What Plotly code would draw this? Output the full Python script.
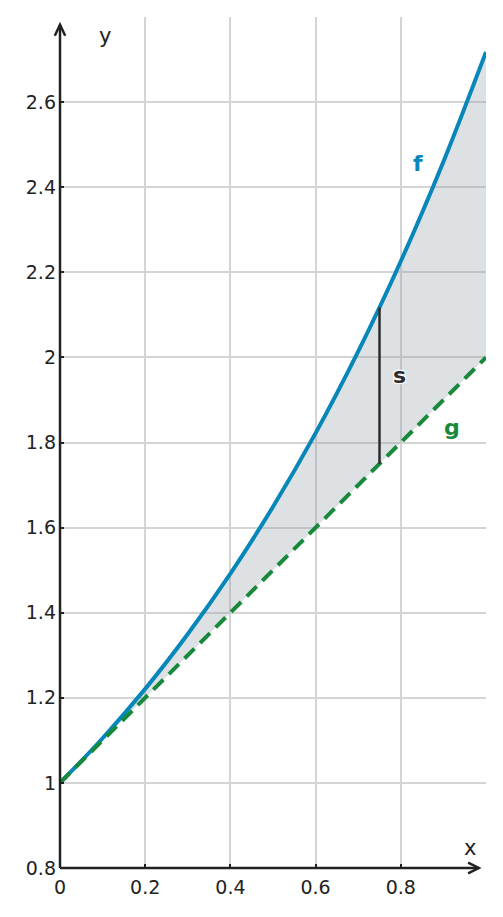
import plotly.graph_objects as go

# curve values
x_f = [0.0, 0.1, 0.2, 0.3, 0.4, 0.5, 0.6, 0.7, 0.8, 0.9, 1.0]
y_f = [1.00, 1.105, 1.221, 1.35, 1.492, 1.649, 1.822, 2.014, 2.226, 2.46, 2.718]

x_g = [0.0, 1.0]
y_g = [1.0, 2.0]

# the vertical segment s
x_s = [0.75, 0.75]
y_s = [1.75, 2.117]

x_ticks = [0, 0.2, 0.4, 0.6, 0.8]
x_labels = ["0", "0.2", "0.4", "0.6", "0.8"]
y_ticks = [0.8, 1.0, 1.2, 1.4, 1.6, 1.8, 2.0, 2.2, 2.4, 2.6]
y_labels = ["0.8", "1", "1.2", "1.4", "1.6", "1.8", "2", "2.2", "2.4", "2.6"]

BLUE = "#0787b9"
GREEN = "#168a3a"
DARK = "#222222"
FONT = "DejaVu Sans"

fig = go.Figure()

# base for the shaded area
fig.add_trace(go.Scatter(x=x_g, y=y_g, mode="lines", line=dict(width=0),
                         hoverinfo="skip", showlegend=False))
fig.add_trace(go.Scatter(x=x_f, y=y_f, mode="lines", fill="tonexty",
                         fillcolor="rgba(142,155,165,0.3)",
                         line=dict(color=BLUE, width=4, shape="spline"),
                         showlegend=False))
fig.add_trace(go.Scatter(x=x_g, y=y_g, mode="lines",
                         line=dict(color=GREEN, width=4, dash="14px,8px"),
                         showlegend=False))
fig.add_trace(go.Scatter(x=x_s, y=y_s, mode="lines",
                         line=dict(color="#2b2b2b", width=2.5),
                         showlegend=False))

# axes with open arrow heads (paper coordinates)
ax_style = dict(color=DARK, width=2.5)
fig.add_shape(type="line", xref="paper", yref="paper", x0=0, y0=0, x1=0.983, y1=0, line=ax_style)
fig.add_shape(type="line", xref="paper", yref="paper", x0=0, y0=0, x1=0, y1=0.991, line=ax_style)
fig.add_shape(type="path", xref="paper", yref="paper",
              path="M 0.958 0.0062 L 0.983 0 L 0.958 -0.0062", line=ax_style)
fig.add_shape(type="path", xref="paper", yref="paper",
              path="M -0.0122 0.978 L 0 0.991 L 0.0122 0.978", line=ax_style)

fig.add_annotation(x=0.106, y=0.978, xref="paper", yref="paper", text="y", showarrow=False,
                   xanchor="center", yanchor="middle",
                   font=dict(family=FONT, size=21, color=DARK))
fig.add_annotation(x=0.962, y=0.024, xref="paper", yref="paper", text="x", showarrow=False,
                   xanchor="center", yanchor="middle",
                   font=dict(family=FONT, size=21, color=DARK))

fig.add_annotation(x=0.841, y=2.455, text="<b>f</b>", showarrow=False,
                   font=dict(family=FONT, size=22, color=BLUE))
fig.add_annotation(x=0.921, y=1.835, text="<b>g</b>", showarrow=False,
                   font=dict(family=FONT, size=22, color=GREEN))
fig.add_annotation(x=0.797, y=1.958, text="<b>s</b>", showarrow=False,
                   font=dict(family=FONT, size=22, color="#2b2b2b",
                             shadow="1px 1px 1px white, -1px -1px 1px white, 1px -1px 1px white, -1px 1px 1px white"))

fig.update_xaxes(range=[0, 1], tickvals=x_ticks, ticktext=x_labels,
                 showgrid=True, gridcolor="#d4d4d4", gridwidth=1.5,
                 zeroline=False, showline=False,
                 ticks="inside", ticklen=4, tickwidth=2, tickcolor=DARK,
                 ticklabelstandoff=6,
                 tickfont=dict(family=FONT, size=19, color=DARK))
fig.update_yaxes(range=[0.8, 2.8], tickvals=y_ticks, ticktext=y_labels,
                 showgrid=True, gridcolor="#d4d4d4", gridwidth=1.5,
                 zeroline=False, showline=False,
                 ticks="inside", ticklen=4, tickwidth=2, tickcolor=DARK,
                 ticklabelstandoff=3,
                 tickfont=dict(family=FONT, size=19, color=DARK))

# page body has an 8px margin, so the figure is a little smaller than the window
fig.update_layout(width=495, height=909, plot_bgcolor="white", paper_bgcolor="white",
                  margin=dict(l=52, r=17, t=9, b=49), showlegend=False)

fig.write_html("out.html")
